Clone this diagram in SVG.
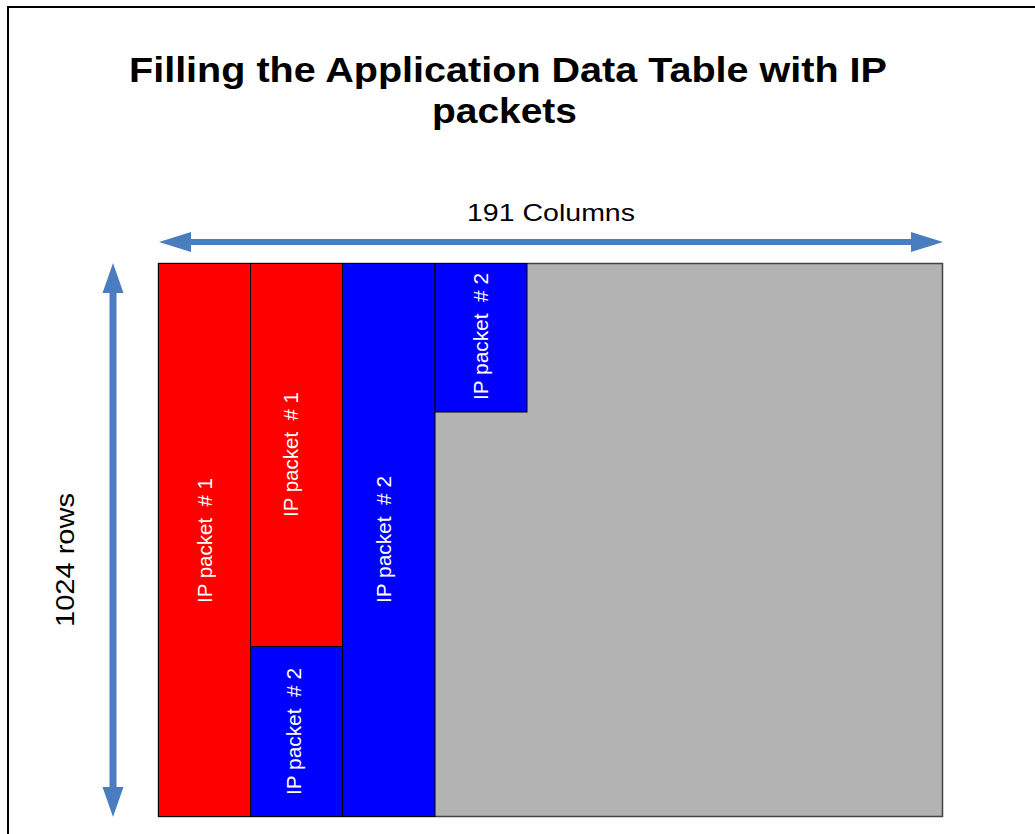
<svg xmlns="http://www.w3.org/2000/svg" width="1035" height="834" viewBox="0 0 1035 834">
  <defs>
    <style>
      .title { font-family: "Liberation Sans", Arial, sans-serif; font-weight: bold; font-size: 35px; fill: #000; }
      .dim { font-family: "Liberation Sans", Arial, sans-serif; fill: #000; }
      .pkt { font-family: "Liberation Sans", Arial, sans-serif; font-size: 20px; fill: #fff; white-space: pre; }
      .cell { stroke: #000; stroke-width: 1; }
      .red { fill: #ff0000; }
      .blue { fill: #0000ff; }
      .arrow { fill: #4a7dbf; }
    </style>
  </defs>

  <rect x="0" y="0" width="1035" height="834" fill="#fff"/>
  <!-- page frame: only the top and left edges fall inside the view -->
  <path d="M8,840 L8,7 L1040,7" fill="none" stroke="#000" stroke-width="2"/>

  <!-- title -->
  <text class="title" x="129" y="82" textLength="758" lengthAdjust="spacingAndGlyphs">Filling the Application Data Table with IP</text>
  <text class="title" x="432" y="123" textLength="145" lengthAdjust="spacingAndGlyphs">packets</text>

  <!-- dimension arrows -->
  <g id="connectors">
    <path class="arrow" d="M159,242 L191,232 L191,239 L911,239 L911,232 L943,242 L911,252 L911,245 L191,245 L191,252 Z"/>
    <path class="arrow" d="M113,263 L123.5,293 L116.5,293 L116.5,787 L123.5,787 L113,817 L102.5,787 L109.5,787 L109.5,293 L102.5,293 Z"/>
  </g>
  <text class="dim" x="467" y="221" font-size="24" textLength="168" lengthAdjust="spacingAndGlyphs">191 Columns</text>
  <text class="dim" font-size="26" transform="translate(74,627) rotate(-90)" textLength="134" lengthAdjust="spacingAndGlyphs">1024 rows</text>

  <!-- data table -->
  <g id="table">
    <rect x="158.5" y="263.5" width="784" height="553" fill="#b3b3b3" stroke="#444" stroke-width="1.5"/>
  </g>

  <g id="col1-packet1">
    <rect class="cell red" x="158.5" y="263.5" width="92" height="553"/>
    <text class="pkt" xml:space="preserve" transform="translate(212,603) rotate(-90)" textLength="125" lengthAdjust="spacingAndGlyphs">IP packet  # 1</text>
  </g>

  <g id="col2-packet1">
    <rect class="cell red" x="250.5" y="263.5" width="92" height="383"/>
    <text class="pkt" xml:space="preserve" transform="translate(298,517) rotate(-90)" textLength="125" lengthAdjust="spacingAndGlyphs">IP packet  # 1</text>
  </g>

  <g id="col2-packet2">
    <rect class="cell blue" x="250.5" y="646.5" width="92" height="170"/>
    <text class="pkt" xml:space="preserve" transform="translate(301,795) rotate(-90)" textLength="127" lengthAdjust="spacingAndGlyphs">IP packet  # 2</text>
  </g>

  <g id="col3-packet2">
    <rect class="cell blue" x="342.5" y="263.5" width="92.5" height="553"/>
    <text class="pkt" xml:space="preserve" transform="translate(391,603) rotate(-90)" textLength="127" lengthAdjust="spacingAndGlyphs">IP packet  # 2</text>
  </g>

  <g id="col4-packet2">
    <rect class="cell blue" x="435" y="263.5" width="92" height="148.5"/>
    <text class="pkt" xml:space="preserve" transform="translate(488,400) rotate(-90)" textLength="127" lengthAdjust="spacingAndGlyphs">IP packet  # 2</text>
  </g>
</svg>
